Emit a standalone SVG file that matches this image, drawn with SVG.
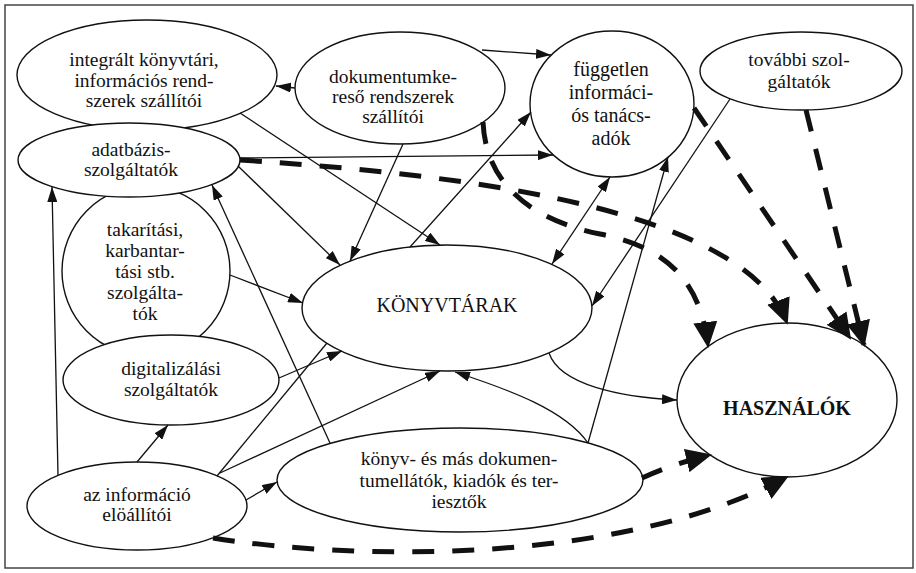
<svg xmlns="http://www.w3.org/2000/svg" width="916" height="573" viewBox="0 0 916 573">
<style>
.n ellipse{fill:#fff;stroke:#111;stroke-width:1.4}
text{font-family:"Liberation Serif","Times New Roman",serif;font-size:19.5px;text-anchor:middle;fill:#111}
.big{font-size:20px}
.bold{font-weight:bold}
.l{fill:none;stroke:#111;stroke-width:1.3;marker-end:url(#a)}
.p{fill:none;stroke:#111;stroke-width:1.3}
.d{fill:none;stroke:#111;stroke-width:5;stroke-dasharray:22 18;marker-end:url(#b)}
</style>
<defs>
<marker id="a" viewBox="0 0 15 10" refX="15" refY="5" markerWidth="15" markerHeight="10" markerUnits="userSpaceOnUse" orient="auto"><path d="M0,0L15,5L0,10z" fill="#111"/></marker>
<marker id="a2" viewBox="0 0 15 10" refX="15" refY="5" markerWidth="15" markerHeight="10" markerUnits="userSpaceOnUse" orient="auto-start-reverse"><path d="M0,0L15,5L0,10z" fill="#111"/></marker>
<marker id="b" viewBox="0 0 26 24" refX="24" refY="12" markerWidth="26" markerHeight="24" markerUnits="userSpaceOnUse" orient="auto"><path d="M0,0L26,12L0,24z" fill="#111"/></marker>
</defs>
<rect x="5" y="5" width="908" height="563" fill="none" stroke="#444" stroke-width="1.5"/>
<g id="nodes">
<g id="takaritasi" class="n"><ellipse cx="146" cy="271" rx="84" ry="85"/>
<text x="145"><tspan x="145" y="236">takarítási,</tspan><tspan x="145" y="257">karbantar-</tspan><tspan x="145" y="278">tási stb.</tspan><tspan x="145" y="299">szolgálta-</tspan><tspan x="145" y="320">tók</tspan></text></g>
<g id="integralt" class="n"><ellipse cx="147" cy="75" rx="130" ry="55"/>
<text><tspan x="144" y="66">integrált könyvtári,</tspan><tspan x="144" y="87">információs rend-</tspan><tspan x="144" y="107">szerek szállítói</tspan></text></g>
<g id="adatbazis" class="n"><ellipse cx="129" cy="160" rx="111" ry="37"/>
<text><tspan x="131" y="156">adatbázis-</tspan><tspan x="131" y="176">szolgáltatók</tspan></text></g>
<g id="dokumentum" class="n"><ellipse cx="400" cy="88" rx="105" ry="56"/>
<text><tspan x="393" y="83">dokumentumke-</tspan><tspan x="393" y="103">reső rendszerek</tspan><tspan x="393" y="123">szállítói</tspan></text></g>
<g id="fuggetlen" class="n"><ellipse cx="612" cy="104" rx="82" ry="73"/>
<text class="big"><tspan x="611" y="76">független</tspan><tspan x="611" y="99">informáci-</tspan><tspan x="611" y="122">ós tanács-</tspan><tspan x="611" y="145">adók</tspan></text></g>
<g id="tovabbi" class="n"><ellipse cx="801" cy="71" rx="101" ry="39"/>
<text><tspan x="799" y="66">további szol-</tspan><tspan x="799" y="88">gáltatók</tspan></text></g>
<g id="digitalizalasi" class="n"><ellipse cx="171" cy="380" rx="108" ry="45"/>
<text><tspan x="171" y="375">digitalizálási</tspan><tspan x="171" y="396">szolgáltatók</tspan></text></g>
<g id="konyvtarak" class="n"><ellipse cx="447" cy="308" rx="145" ry="63"/>
<text class="big" x="447" y="312">KÖNYVTÁRAK</text></g>
<g id="hasznalok" class="n"><ellipse cx="787" cy="400" rx="110" ry="77"/>
<text class="big bold" x="787" y="415">HASZNÁLÓK</text></g>
<g id="informacio" class="n"><ellipse cx="137" cy="506" rx="110" ry="44"/>
<text><tspan x="137" y="501">az információ</tspan><tspan x="137" y="521">elöállítói</tspan></text></g>
<g id="konyv" class="n"><ellipse cx="460" cy="480" rx="183" ry="52"/>
<text><tspan x="459" y="465">könyv- és más dokumen-</tspan><tspan x="459" y="487">tumellátók, kiadók és ter-</tspan><tspan x="459" y="508">iesztők</tspan></text></g>
</g>
<g id="connectors">
<path class="l" d="M295,88L276,86"/>
<path class="l" d="M482,50L551,55"/>
<path class="l" d="M240,158L553,155"/>
<path class="l" d="M240,113L440,245"/>
<path class="l" d="M238,166L340,265"/>
<path class="l" d="M403,144L350,261"/>
<path class="l" d="M410,247L531,112"/>
<path class="l" d="M230,275L303,303"/>
<path class="l" d="M330,443L212,185"/>
<path class="l" d="M58,475L52,187"/>
<path class="l" d="M137,462L168,425"/>
<path class="p" d="M217,476L327,343"/>
<path class="l" d="M279,378L342,351"/>
<path class="l" d="M220,473L440,371"/>
<path class="l" d="M588,443C565,410 510,390 455,372"/>
<path class="l" d="M549,353C560,385 620,397 677,400"/>
<path class="l" d="M588,443L668,157"/>
<path class="l" d="M730,99L592,306"/>
<path class="l" d="M552,264L610,177" marker-start="url(#a2)" marker-end="url(#a2)"/>
<path class="l" d="M246,500L277,482"/>
<path class="d" d="M240,160C420,172 740,200 787,323"/>
<path class="d" d="M483,122C486,190 540,222 600,234C660,246 700,275 708,346"/>
<path class="d" d="M694,108L850,338"/>
<path class="d" d="M806,110L864,345"/>
<path class="d" d="M642,478Q672,464 710,455"/>
<path class="d" d="M213,538C350,560 620,566 787,477"/>
</g>
</svg>
